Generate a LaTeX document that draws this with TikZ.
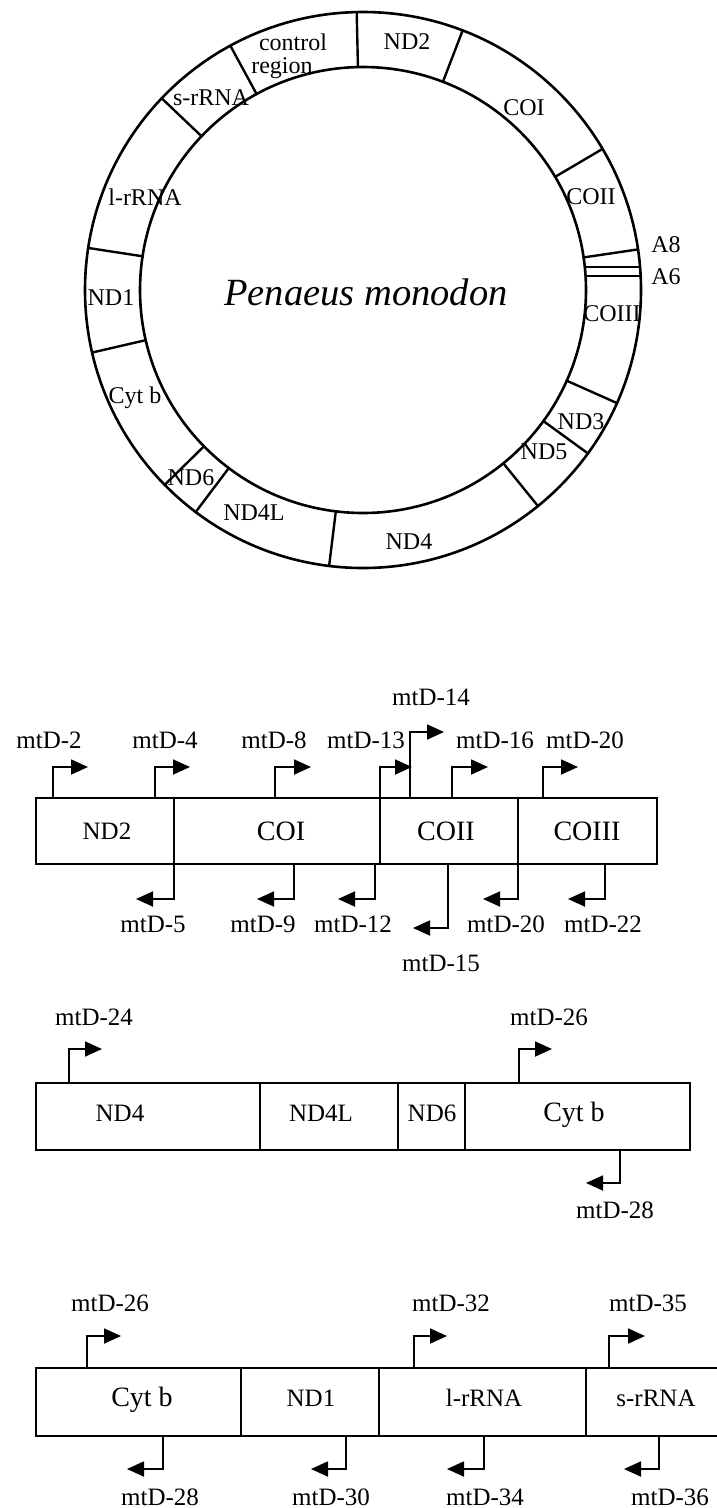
\documentclass[tikz,border=0pt]{standalone}
\usepackage{fontspec}
\setmainfont{Liberation Serif}
\usetikzlibrary{arrows.meta}
\begin{document}
\begin{tikzpicture}[x=1pt,y=-1pt,
  ring/.style={line width=2.6pt},
  segline/.style={line width=2.4pt},
  glab/.style={font=\fontsize{24}{26}\selectfont, inner sep=0pt},
  species/.style={font=\fontsize{38.5}{40}\selectfont\itshape, inner sep=0pt},
  boxline/.style={line width=1.8pt},
  divline/.style={line width=1.4pt},
  prim/.style={line width=1.8pt, -{Triangle[length=17pt,width=15pt]}},
  plab/.style={font=\fontsize{25}{27}\selectfont, inner sep=0pt},
  blab/.style={font=\fontsize{25}{27}\selectfont, inner sep=0pt},
  blabl/.style={font=\fontsize{28}{30}\selectfont, inner sep=0pt},
]
\useasboundingbox (0,0) rectangle (717,1508);

% ---------------- circular map ----------------
\coordinate (C) at (363,290);
\draw[ring] (C) circle[radius=278pt];
\draw[ring] (C) circle[radius=223pt];
\begin{scope}[shift={(C)}]
  \foreach \a in {91.3,69,30.5,8.4,-24,-36,-51,-97,-127,-135.5,193,171.3,136.4,118.5}
    \draw[segline] (\a:222pt) -- (\a:279pt);
\end{scope}
\draw[segline] (584.5,267) -- (640.5,267);
\draw[segline] (585.3,276) -- (641,276);

\node[species] (sp) at (366,292) {Penaeus monodon};
\node[glab] (c1) at (293,42) {control};
\node[glab] (c2) at (282,68) {region};
\node[glab] (cND2) at (407,42) {ND2};
\node[glab] (cCOI) at (524,108) {COI};
\node[glab] (cCOII) at (591,197) {COII};
\node[glab] (cA8) at (666,245) {A8};
\node[glab] (cA6) at (666,277) {A6};
\node[glab] (cCOIII) at (612,314) {COIII};
\node[glab] (cND3) at (581,422) {ND3};
\node[glab] (cND5) at (544,452) {ND5};
\node[glab] (cND4) at (409,542) {ND4};
\node[glab] (cND4L) at (254,513) {ND4L};
\node[glab] (cND6) at (191,478) {ND6};
\node[glab] (cCytb) at (135,398) {Cyt b};
\node[glab] (cND1) at (111,298) {ND1};
\node[glab] (clr) at (145,197) {l-rRNA};
\node[glab] (csr) at (211,98) {s-rRNA};

% ---------------- linear map 1 ----------------
\draw[boxline] (36,798) rectangle (657,864);
\draw[divline] (174,798) -- (174,864);
\draw[divline] (380,798) -- (380,864);
\draw[divline] (518,798) -- (518,864);
\node[blab]  (aND2) at (107,831) {ND2};
\node[blabl] (aCOI) at (281,831) {COI};
\node[blabl] (aCOII) at (446,831) {COII};
\node[blabl] (aCOIII) at (587,831) {COIII};

\draw[prim] (52.6,798) |- (88,767);
\draw[prim] (155,798) |- (190,767);
\draw[prim] (275,798) |- (311,767);
\draw[prim] (380,798) |- (412,767);
\draw[prim] (410,798) |- (444,732);
\draw[prim] (452,798) |- (488,767);
\draw[prim] (543,798) |- (578,767);
\node[plab] (m2) at (49,740) {mtD-2};
\node[plab] (m4) at (165,740) {mtD-4};
\node[plab] (m8) at (274,740) {mtD-8};
\node[plab] (m13) at (366,740) {mtD-13};
\node[plab] (m14) at (431,697) {mtD-14};
\node[plab] (m16) at (495,740) {mtD-16};
\node[plab] (m20a) at (585,740) {mtD-20};

\draw[prim] (174,864) |- (136,899);
\draw[prim] (294,864) |- (257,899);
\draw[prim] (375,864) |- (338,899);
\draw[prim] (448,864) |- (413,928);
\draw[prim] (518,864) |- (483,899);
\draw[prim] (605,864) |- (568,899);
\node[plab] (m5) at (153,924) {mtD-5};
\node[plab] (m9) at (263,924) {mtD-9};
\node[plab] (m12) at (353,924) {mtD-12};
\node[plab] (m15) at (441,963) {mtD-15};
\node[plab] (m20b) at (506,924) {mtD-20};
\node[plab] (m22) at (603,924) {mtD-22};

% ---------------- linear map 2 ----------------
\draw[boxline] (36,1083) rectangle (690,1150);
\draw[divline] (260,1083) -- (260,1150);
\draw[divline] (398,1083) -- (398,1150);
\draw[divline] (465,1083) -- (465,1150);
\node[blab] (bND4) at (120,1113) {ND4};
\node[blab] (bND4L) at (321,1113) {ND4L};
\node[blab] (bND6) at (432,1113) {ND6};
\node[blabl] (bCytb) at (574,1115) {Cyt b};

\draw[prim] (69,1083) |- (102,1049);
\draw[prim] (519,1083) |- (552,1049);
\draw[prim] (620,1150) |- (586,1183);
\node[plab] (m24) at (94,1017) {mtD-24};
\node[plab] (m26a) at (549,1017) {mtD-26};
\node[plab] (m28a) at (615,1210) {mtD-28};

% ---------------- linear map 3 ----------------
\draw[boxline] (720,1368) -- (36,1368) -- (36,1436) -- (720,1436);
\draw[divline] (241,1368) -- (241,1436);
\draw[divline] (379,1368) -- (379,1436);
\draw[divline] (586,1368) -- (586,1436);
\node[blabl] (dCytb) at (142,1400) {Cyt b};
\node[blab] (dND1) at (311,1398) {ND1};
\node[blab] (dlr) at (484,1398) {l-rRNA};
\node[blab] (dsr) at (656,1398) {s-rRNA};

\draw[prim] (87,1368) |- (121,1336);
\draw[prim] (414,1368) |- (447,1336);
\draw[prim] (609,1368) |- (645,1336);
\node[plab] (m26b) at (110,1303) {mtD-26};
\node[plab] (m32) at (451,1303) {mtD-32};
\node[plab] (m35) at (648,1303) {mtD-35};

\draw[prim] (163,1436) |- (127,1469);
\draw[prim] (346,1436) |- (311,1469);
\draw[prim] (484,1436) |- (447,1469);
\draw[prim] (659,1436) |- (624,1469);
\node[plab] (m28b) at (160,1497) {mtD-28};
\node[plab] (m30) at (331,1497) {mtD-30};
\node[plab] (m34) at (485,1497) {mtD-34};
\node[plab] (m36) at (670,1497) {mtD-36};
\end{tikzpicture}
\end{document}
